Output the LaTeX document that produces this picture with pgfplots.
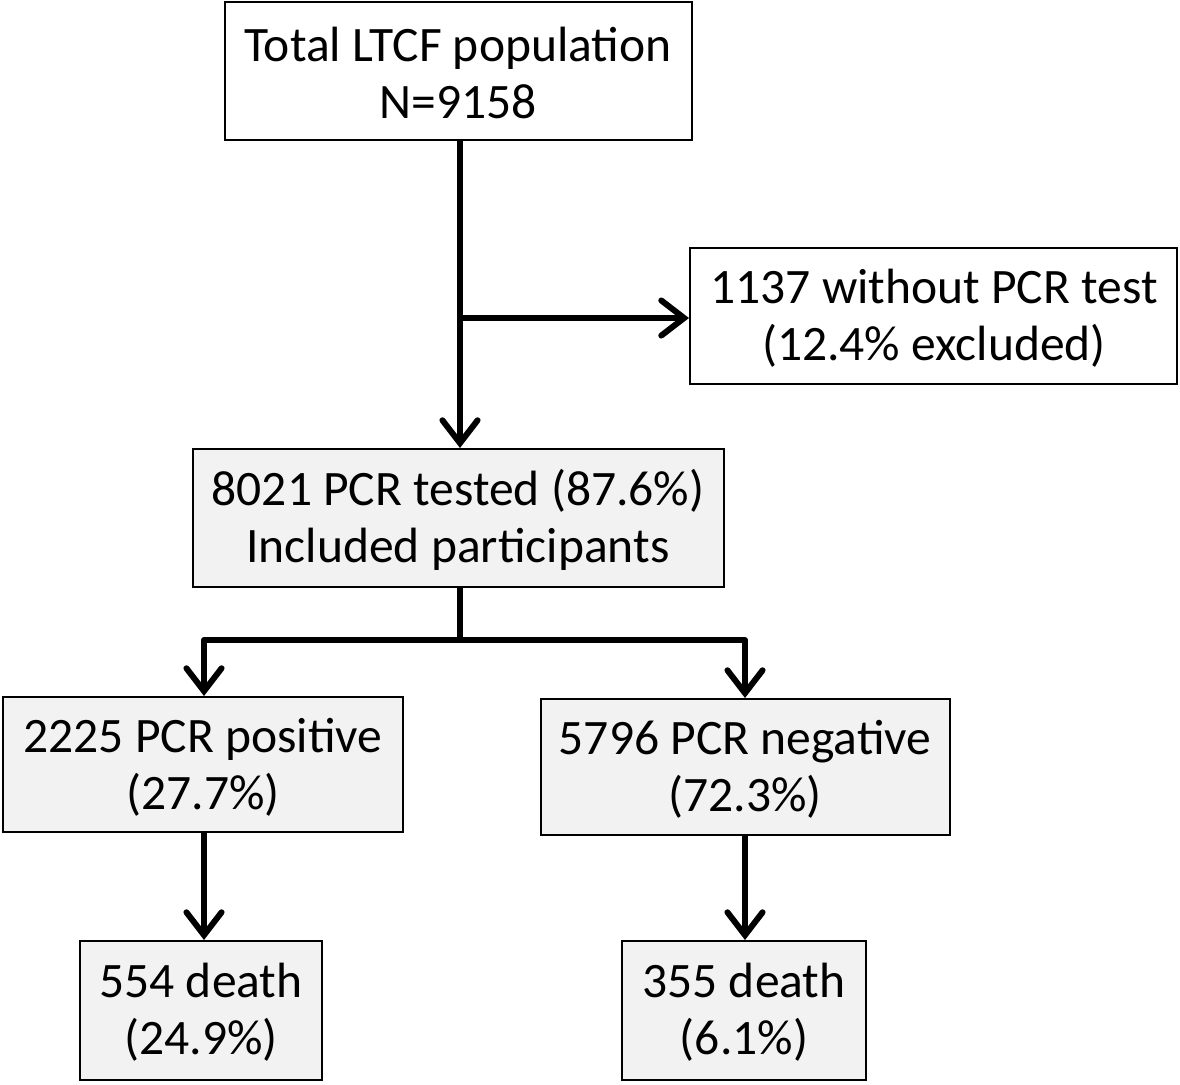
\documentclass[border=0pt]{standalone}
\usepackage{pgfplots}
\pgfplotsset{compat=1.18}
\usepackage{fontspec}
\setmainfont{Carlito}
\usetikzlibrary{arrows.meta}
\definecolor{boxgray}{HTML}{F2F2F2}
\begin{document}
\begin{tikzpicture}
\begin{axis}[
  scale only axis, width=11.8cm, height=10.84cm,
  xmin=0, xmax=1180, ymin=0, ymax=1084, y dir=reverse,
  hide axis, clip=false,
]
\path (axis cs:0,0) rectangle (axis cs:1180,1084);
\tikzset{
  bx/.style={draw=black, line width=0.6pt},
  tx/.style={align=center, inner sep=0pt, font=\fontsize{14.1}{16.3}\selectfont},
  ar/.style={line width=1.7pt, -{Straight Barb[length=6.5pt,width=10pt,line cap=round]}},
  ln/.style={line width=1.7pt},
}
% boxes
\draw[bx, fill=white] (axis cs:225,2) rectangle (axis cs:692,140);
\node[tx] at (axis cs:458,73) {Total LTCF population\\N=9158};
\draw[bx, fill=white] (axis cs:690,248) rectangle (axis cs:1177,384);
\node[tx] at (axis cs:934,318) {1137 without PCR test\\(12.4\% excluded)};
\draw[bx, fill=boxgray] (axis cs:193,449) rectangle (axis cs:724,587);
\node[tx] at (axis cs:458,520) {8021 PCR tested (87.6\%)\\Included participants};
\draw[bx, fill=boxgray] (axis cs:3,697) rectangle (axis cs:403,832);
\node[tx] at (axis cs:203,767) {2225 PCR positive\\(27.7\%)};
\draw[bx, fill=boxgray] (axis cs:541,699) rectangle (axis cs:950,835);
\node[tx] at (axis cs:745,769) {5796 PCR negative\\(72.3\%)};
\draw[bx, fill=boxgray] (axis cs:80,941) rectangle (axis cs:322,1080);
\node[tx] at (axis cs:201,1012) {554 death\\(24.9\%)};
\draw[bx, fill=boxgray] (axis cs:622,941) rectangle (axis cs:866,1080);
\node[tx] at (axis cs:744,1012) {355 death\\(6.1\%)};
% arrows
\draw[ar] (axis cs:460,140) -- (axis cs:460,448);
\draw[ar] (axis cs:460,318) -- (axis cs:689,318);
\draw[ln] (axis cs:460,587) -- (axis cs:460,640);
\draw[ar, line join=round] (axis cs:460,640) -- (axis cs:204,640) -- (axis cs:204,696);
\draw[ar, line join=round] (axis cs:460,640) -- (axis cs:745,640) -- (axis cs:745,698);
\draw[ar] (axis cs:204,832) -- (axis cs:204,940);
\draw[ar] (axis cs:745,835) -- (axis cs:745,940);
\end{axis}
\end{tikzpicture}
\end{document}
